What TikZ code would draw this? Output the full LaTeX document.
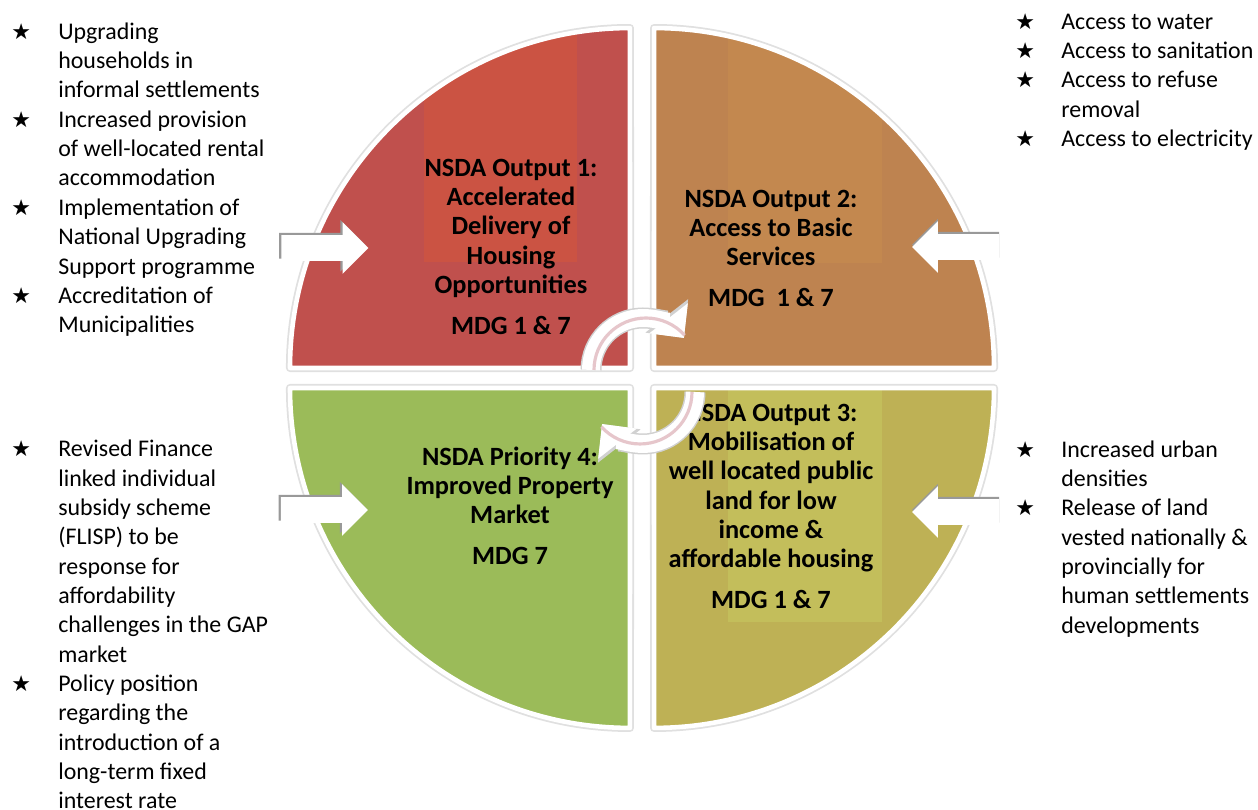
\documentclass[tikz,border=0pt]{standalone}
\usepackage{fontspec}
\setmainfont{Carlito}
\newfontfamily\symbolfont{DejaVu Sans}
\usetikzlibrary{arrows.meta,shapes.arrows,shadows}

\definecolor{quadred}{HTML}{C0504D}
\definecolor{quadredlight}{HTML}{CB5343}
\definecolor{quadorange}{HTML}{BE8350}
\definecolor{quadorangelight}{HTML}{C3884F}
\definecolor{quadolive}{HTML}{BEB155}
\definecolor{quadolivelight}{HTML}{C3BE5B}
\definecolor{quadgreen}{HTML}{9BBB59}
\definecolor{ringpink}{HTML}{E6C6CB}

\newcommand{\bodysize}{\fontsize{13.6}{16.7}\selectfont}
\newcommand{\goalsize}{\fontsize{15}{16.7}\selectfont}
\newcommand{\bstar}{{\symbolfont\fontsize{12.5}{12}\selectfont ★}}

\tikzset{
  quadedge/.style={draw=white, line width=2.6pt, line join=round},
  quadshade/.style={draw=black!12, line width=4.6pt, line join=round},
  goal/.style={font=\goalsize\bfseries, align=center, anchor=north, inner sep=0pt},
  bullets/.style={font=\bodysize, anchor=north west, inner sep=0pt},
  feed/.style={single arrow, fill=white, minimum height=1.74cm, inner xsep=0pt, inner ysep=0.25cm,
    single arrow head extend=0.26cm},
  turn/.style={white, line width=0.36cm, -{Triangle[length=0.5cm, width=0.95cm]}},
  turnshade/.style={black!18, line width=0.42cm, -{Triangle[length=0.56cm, width=1.05cm]}},
}

\begin{document}
\begin{tikzpicture}[x=0.02cm, y=0.02cm]
  \useasboundingbox (0,0) rectangle (1258,810);
  \fill[white] (0,0) rectangle (1258,810);

  % four quarters of the circle
  \path[quadshade] (630,442) -- (290,442) arc[start angle=180, end angle=90, radius=6.8cm] -- cycle;
  \path[quadshade] (654,442) -- (994,442) arc[start angle=0, end angle=90, radius=6.8cm] -- cycle;
  \path[quadshade] (630,422) -- (290,422) arc[start angle=180, end angle=270, radius=6.8cm] -- cycle;
  \path[quadshade] (654,422) -- (994,422) arc[start angle=0, end angle=-90, radius=6.8cm] -- cycle;

  \begin{scope}
    \clip (630,442) -- (290,442) arc[start angle=180, end angle=90, radius=6.8cm] -- cycle;
    \fill[quadred] (280,430) rectangle (640,800);
    \fill[quadredlight] (424,548) rectangle (577,800);
  \end{scope}
  \begin{scope}
    \clip (654,442) -- (994,442) arc[start angle=0, end angle=90, radius=6.8cm] -- cycle;
    \fill[quadorange] (640,430) rectangle (1000,800);
    \fill[quadorangelight] (728,547) rectangle (882,800);
  \end{scope}
  \begin{scope}
    \clip (630,422) -- (290,422) arc[start angle=180, end angle=270, radius=6.8cm] -- cycle;
    \fill[quadgreen] (280,70) rectangle (640,430);
  \end{scope}
  \begin{scope}
    \clip (654,422) -- (994,422) arc[start angle=0, end angle=-90, radius=6.8cm] -- cycle;
    \fill[quadolive] (640,70) rectangle (1000,430);
    \fill[quadolivelight] (728,188) rectangle (882,430);
  \end{scope}

  \draw[quadedge] (630,442) -- (290,442) arc[start angle=180, end angle=90, radius=6.8cm] -- cycle;
  \draw[quadedge] (654,442) -- (994,442) arc[start angle=0, end angle=90, radius=6.8cm] -- cycle;
  \draw[quadedge] (630,422) -- (290,422) arc[start angle=180, end angle=270, radius=6.8cm] -- cycle;
  \draw[quadedge] (654,422) -- (994,422) arc[start angle=0, end angle=-90, radius=6.8cm] -- cycle;

  % outputs
  \node[goal] (out1) at (511,654.6) {\strut NSDA Output 1:\\Accelerated\\Delivery of\\Housing\\Opportunities\\[6.5pt]MDG 1 \& 7};
  \node[goal] (out2) at (771,623.6) {\strut NSDA Output 2:\\Access to Basic\\Services\\[6.5pt]MDG\ \ 1 \& 7};
  \node[goal] (out3) at (771,409.6) {\strut NSDA Output 3:\\Mobilisation of\\well located public\\land for low\\income \&\\affordable housing\\[6.5pt]MDG 1 \& 7};
  \node[goal] (prio4) at (510,365.6) {\strut NSDA Priority 4:\\Improved Property\\Market\\[6.5pt]MDG 7};

  % bullet lists
  \node[bullets] (list1) at (11,791.6) {\begin{tabular}{@{}p{0.94cm}@{}l@{}}
    \bstar & Upgrading\\
           & households in\\
           & informal settlements\\
    \bstar & Increased provision\\
           & of well-located rental\\
           & accommodation\\
    \bstar & Implementation of\\
           & National Upgrading\\
           & Support programme\\
    \bstar & Accreditation of\\
           & Municipalities
  \end{tabular}};
  \node[bullets] (list2) at (1015,801.6) {\begin{tabular}{@{}p{0.92cm}@{}l@{}}
    \bstar & Access to water\\
    \bstar & Access to sanitation\\
    \bstar & Access to refuse\\
           & removal\\
    \bstar & Access to electricity
  \end{tabular}};
  \node[bullets] (list3) at (1015,373.6) {\begin{tabular}{@{}p{0.92cm}@{}l@{}}
    \bstar & Increased urban\\
           & densities\\
    \bstar & Release of land\\
           & vested nationally \&\\
           & provincially for\\
           & human settlements\\
           & developments
  \end{tabular}};
  \node[bullets] (list4) at (11,374) {\begin{tabular}{@{}p{0.94cm}@{}l@{}}
    \bstar & Revised Finance\\
           & linked individual\\
           & subsidy scheme\\
           & (FLISP) to be\\
           & response for\\
           & affordability\\
           & challenges in the GAP\\
           & market\\
    \bstar & Policy position\\
           & regarding the\\
           & introduction of a\\
           & long-term fixed\\
           & interest rate
  \end{tabular}};

  % arrows feeding into the circle
  \node[feed, drop shadow={shadow xshift=-0.045cm, shadow yshift=0.045cm, fill=black!40, opacity=1}] (in1) at (318.5,562) {};
  \node[feed, drop shadow={shadow xshift=-0.045cm, shadow yshift=0.045cm, fill=black!40, opacity=1}] (in4) at (318,300) {};
  \node[feed, shape border rotate=180, drop shadow={shadow xshift=0cm, shadow yshift=0.045cm, fill=black!40, opacity=1}] (in2) at (962,563) {};
  \node[feed, shape border rotate=180, drop shadow={shadow xshift=0cm, shadow yshift=0.045cm, fill=black!40, opacity=1}] (in3) at (962,298) {};

  % turning arrows in the middle
  \draw[turnshade] (591,440) arc[start angle=180, end angle=38, radius=1.04cm];
  \draw[turn] (591,440) arc[start angle=180, end angle=38, radius=1.04cm];
  \draw[ringpink, line width=1.8pt] (594,440) arc[start angle=180, end angle=42, radius=1.04cm];
  \draw[turnshade] (695,418) arc[start angle=0, end angle=-142, radius=1.04cm];
  \draw[turn] (695,418) arc[start angle=0, end angle=-142, radius=1.04cm];
  \draw[ringpink, line width=1.8pt] (692,418) arc[start angle=0, end angle=-138, radius=1.04cm];
\end{tikzpicture}
\end{document}
